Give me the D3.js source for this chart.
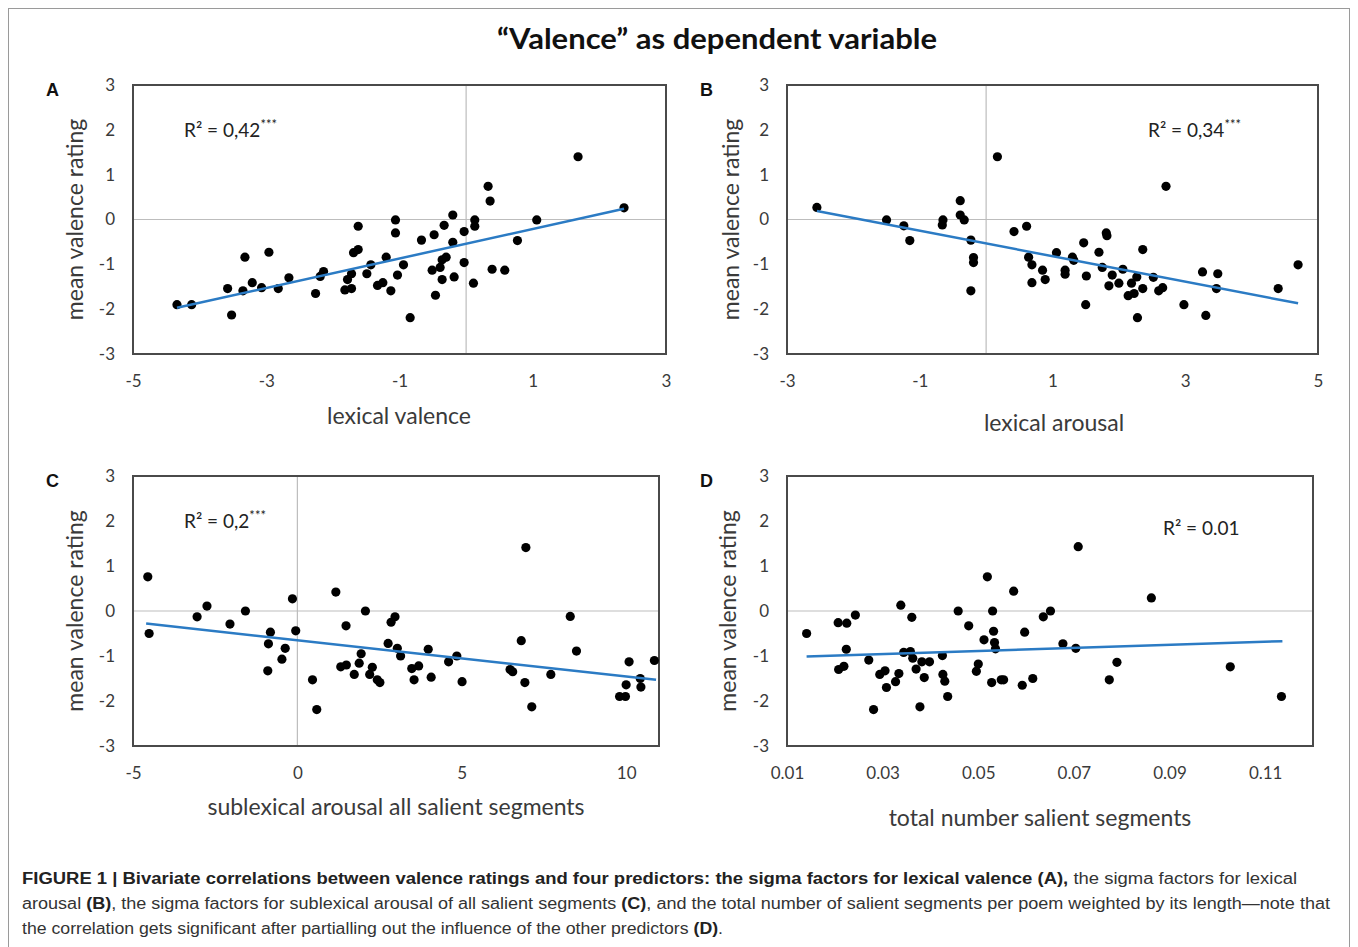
<!DOCTYPE html>
<html><head><meta charset="utf-8">
<script src="https://cdn.jsdelivr.net/npm/d3@7"></script>
<style>
body{margin:0;background:#fff;}
svg{display:block;}
</style></head><body>
<svg id="chart" width="1358" height="947"></svg>
<script>
// ---------- DATA ----------
const yTicks = [3, 2, 1, 0, -1, -2, -3];
const aTicks = [-5, -3, -1, 1, 3];
const bTicks = [-3, -1, 1, 3, 5];
const cTicks = [-5, 0, 5, 10];
const dTicks = [0.01, 0.03, 0.05, 0.07, 0.09, 0.11];

const aX = [-4.34,-4.12,-3.52,-3.58,-3.35,-3.32,-3.21,-3.07,-2.96,-2.82,-2.66,-2.26,-2.19,-2.14,-1.82,-1.72,-1.78,-1.72,-1.69,-1.62,-1.62,-1.49,-1.43,-1.33,-1.25,-1.20,-1.13,-1.06,-1.06,-1.03,-0.94,-0.84,-0.67,-0.51,-0.48,-0.46,-0.39,-0.36,-0.30,-0.36,-0.33,-0.20,-0.20,-0.18,-0.03,-0.03,0.11,0.13,0.13,0.33,0.36,0.39,0.58,0.77,1.06,1.68,2.37];
const aY = [-1.90,-1.90,-2.13,-1.54,-1.59,-0.84,-1.41,-1.52,-0.73,-1.54,-1.30,-1.65,-1.27,-1.16,-1.57,-1.54,-1.34,-1.21,-0.74,-0.67,-0.15,-1.21,-1.01,-1.47,-1.41,-0.84,-1.59,-0.01,-0.30,-1.24,-1.01,-2.19,-0.46,-1.13,-0.34,-1.69,-1.07,-0.90,-0.84,-1.34,-0.13,0.10,-0.51,-1.28,-0.27,-0.96,-1.42,-0.01,-0.15,0.74,0.41,-1.11,-1.13,-0.47,-0.01,1.40,0.26];

const bX = [-2.55,-1.50,-1.24,-1.15,-0.65,-0.66,-0.39,-0.39,-0.33,-0.23,-0.19,-0.19,-0.23,0.17,0.42,0.61,0.64,0.69,0.69,0.85,0.89,1.06,1.19,1.19,1.30,1.32,1.47,1.50,1.51,1.70,1.75,1.81,1.82,1.85,1.90,2.00,2.06,2.14,2.19,2.23,2.27,2.28,2.36,2.36,2.52,2.60,2.66,2.71,2.98,3.26,3.31,3.47,3.49,4.40,4.70];
const bY = [0.27,-0.01,-0.14,-0.47,-0.01,-0.12,0.42,0.10,-0.01,-0.46,-0.85,-0.96,-1.59,1.40,-0.27,-0.15,-0.84,-1.01,-1.41,-1.13,-1.34,-0.74,-1.13,-1.22,-0.84,-0.91,-0.52,-1.90,-1.26,-0.73,-1.07,-0.30,-0.36,-1.48,-1.24,-1.42,-1.11,-1.70,-1.42,-1.65,-1.28,-2.19,-0.67,-1.54,-1.29,-1.59,-1.52,0.74,-1.90,-1.17,-2.14,-1.54,-1.21,-1.54,-1.01];

const cX = [-4.55,-4.51,-3.05,-2.75,-2.05,-1.58,-0.90,-0.88,-0.82,-0.47,-0.37,-0.15,-0.05,0.46,0.59,1.17,1.32,1.49,1.48,1.73,1.88,1.94,2.07,2.20,2.28,2.43,2.51,2.76,2.85,2.97,3.04,3.14,3.48,3.69,3.55,3.98,4.07,4.60,4.85,5.01,6.47,6.55,6.81,6.95,6.92,7.13,7.71,8.30,8.49,9.80,9.98,10.00,10.09,10.43,10.45,10.86];
const cY = [0.76,-0.50,-0.13,0.11,-0.29,0.00,-1.33,-0.73,-0.47,-1.07,-0.83,0.27,-0.44,-1.53,-2.19,0.42,-1.24,-1.20,-0.33,-1.41,-1.16,-0.95,0.00,-1.41,-1.25,-1.53,-1.59,-0.72,-0.25,-0.13,-0.83,-1.00,-1.28,-1.22,-1.53,-0.85,-1.47,-1.13,-1.00,-1.57,-1.30,-1.35,-0.66,1.41,-1.59,-2.13,-1.41,-0.12,-0.89,-1.90,-1.90,-1.64,-1.13,-1.50,-1.69,-1.10];

const dX = [0.0141,0.0207,0.0225,0.0243,0.0224,0.0208,0.0219,0.0271,0.0281,0.0294,0.0305,0.0308,0.0327,0.0334,0.0338,0.0344,0.0358,0.0361,0.0363,0.0370,0.0378,0.0382,0.0387,0.0398,0.0425,0.0426,0.0430,0.0436,0.0458,0.0480,0.0496,0.0500,0.0512,0.0519,0.0528,0.0530,0.0532,0.0534,0.0536,0.0548,0.0553,0.0574,0.0592,0.0597,0.0614,0.0636,0.0651,0.0677,0.0704,0.0709,0.0774,0.0790,0.0862,0.1027,0.1134];
const dY = [-0.50,-0.26,-0.27,-0.09,-0.85,-1.30,-1.23,-1.09,-2.19,-1.41,-1.33,-1.70,-1.57,-1.39,0.13,-0.92,-0.90,-0.14,-1.05,-1.29,-2.13,-1.13,-1.48,-1.13,-0.99,-1.41,-1.56,-1.90,0.00,-0.33,-1.34,-1.18,-0.64,0.76,-1.59,0.00,-0.45,-0.70,-0.84,-1.53,-1.53,0.44,-1.65,-0.47,-1.50,-0.13,0.00,-0.73,-0.83,1.43,-1.53,-1.14,0.29,-1.24,-1.90];

// trend lines: [x, y] endpoints
const aTrend = [[-4.34, -1.97], [2.37, 0.24]];
const bTrend = [[-2.55, 0.19], [4.70, -1.87]];
const cTrend = [[-4.60, -0.28], [10.91, -1.53]];
const dTrend = [[0.0141, -1.01], [0.1136, -0.67]];

const titleText = "\u201CValence\u201D as dependent variable";
const yTitle = "mean valence rating";

// ---------- DRAW ----------
const svg = d3.select("#chart");
const FONT = "Lato, 'Open Sans', sans-serif";
const plain = d => String(d);

// outer frame
svg.append("rect").attr("x", 8.5).attr("y", 8.5).attr("width", 1341).attr("height", 960)
  .attr("fill", "none").attr("stroke", "#9a9a9a").attr("stroke-width", 1);

svg.append("text").attr("x", 717).attr("y", 49).attr("text-anchor", "middle")
  .attr("font-family", FONT).attr("font-weight", 700).attr("font-size", 28)
  .attr("fill", "#111").attr("textLength", 440).attr("lengthAdjust", "spacingAndGlyphs")
  .text(titleText);

const panels = [
  {letter:"A", xs:aX, ys:aY, trend:aTrend, ticks:aTicks, dom:[-5,3], box:[133,666,85,354], xTitle:"lexical valence", xTitleX:399, xTitleY:424, yTitleX:75, r2:"R\u00B2 = 0,42", star:true, r2x:184, r2y:137, fmt:plain},
  {letter:"B", xs:bX, ys:bY, trend:bTrend, ticks:bTicks, dom:[-3,5], box:[787,1318,85,354], xTitle:"lexical arousal", xTitleX:1054, xTitleY:431, yTitleX:731, r2:"R\u00B2 = 0,34", star:true, r2x:1148, r2y:137, fmt:plain},
  {letter:"C", xs:cX, ys:cY, trend:cTrend, ticks:cTicks, dom:[-5,11], box:[133,659,476,746], xTitle:"sublexical arousal all salient segments", xTitleX:396, xTitleY:815, yTitleX:75, r2:"R\u00B2 = 0,2", star:true, r2x:184, r2y:528, fmt:plain},
  {letter:"D", xs:dX, ys:dY, trend:dTrend, ticks:dTicks, dom:[0.01,0.12], box:[787,1313,476,746], xTitle:"total number salient segments", xTitleX:1040, xTitleY:826, yTitleX:728, r2:"R\u00B2 = 0.01", star:false, r2x:1163, r2y:535, fmt:d3.format(".2f")},
];

panels.forEach(p => {
  const [l, r, t, b] = p.box;
  const x = d3.scaleLinear().domain(p.dom).range([l, r]);
  const y = d3.scaleLinear().domain([-3, 3]).range([b, t]);
  const g = svg.append("g");

  // zero gridlines
  g.append("line").attr("x1", l).attr("x2", r).attr("y1", y(0)).attr("y2", y(0))
    .attr("stroke", "#bdbdbd").attr("stroke-width", 1.2);
  if (p.dom[0] < 0 && p.dom[1] > 0) {
    g.append("line").attr("x1", x(0)).attr("x2", x(0)).attr("y1", t).attr("y2", b)
      .attr("stroke", "#bdbdbd").attr("stroke-width", 1.2);
  }

  // border
  g.append("rect").attr("x", l).attr("y", t).attr("width", r - l).attr("height", b - t)
    .attr("fill", "none").attr("stroke", "#4a4a4a").attr("stroke-width", 2);

  // axes
  const ya = g.append("g").attr("transform", `translate(${l},0)`)
    .call(d3.axisLeft(y).tickValues(yTicks).tickSize(0).tickPadding(18).tickFormat(plain));
  ya.select(".domain").remove();
  ya.selectAll("text").attr("font-family", FONT).attr("font-size", 17).attr("fill", "#3a3a3a");

  const xa = g.append("g").attr("transform", `translate(0,${b})`)
    .call(d3.axisBottom(x).tickValues(p.ticks).tickSize(0).tickPadding(21).tickFormat(p.fmt));
  xa.select(".domain").remove();
  xa.selectAll("text").attr("font-family", FONT).attr("font-size", 17).attr("fill", "#3a3a3a");

  // axis titles
  g.append("text").attr("x", p.xTitleX).attr("y", p.xTitleY).attr("text-anchor", "middle")
    .attr("font-family", FONT).attr("font-size", 23).attr("fill", "#3a3a3a").text(p.xTitle);
  g.append("text").attr("transform", `translate(${p.yTitleX},${(t + b) / 2}) rotate(-90)`)
    .attr("text-anchor", "middle").attr("dy", "0.35em")
    .attr("font-family", FONT).attr("font-size", 23).attr("fill", "#3a3a3a").text(yTitle);

  // panel letter
  g.append("text").attr("x", l - 87).attr("y", t + 11)
    .attr("font-family", "'Liberation Sans', Arial, sans-serif").attr("font-weight", 700)
    .attr("font-size", 18).attr("fill", "#111").text(p.letter);

  // points
  const pts = p.xs.map((v, i) => [v, p.ys[i]]);
  g.selectAll("circle.pt").data(pts).enter().append("circle")
    .attr("cx", d => x(d[0])).attr("cy", d => y(d[1])).attr("r", 4.6).attr("fill", "#000");

  // trend
  g.append("path").datum(p.trend)
    .attr("d", d3.line().x(d => x(d[0])).y(d => y(d[1])))
    .attr("stroke", "#2b7bc4").attr("stroke-width", 2.5).attr("fill", "none");

  // R2 label
  const rt = g.append("text").attr("x", p.r2x).attr("y", p.r2y)
    .attr("font-family", FONT).attr("font-size", 19).attr("fill", "#222").text(p.r2);
  if (p.star) rt.append("tspan").attr("dy", -8).attr("font-size", 13).text("***");
});

// caption
const cap = svg.append("g").attr("font-family", "'Liberation Sans Narrow', 'Arial Narrow', 'Liberation Sans', Arial, sans-serif")
  .attr("font-size", 16).attr("fill", "#333");
const l1 = cap.append("text").attr("x", 22).attr("y", 884).attr("textLength", 1275).attr("lengthAdjust", "spacingAndGlyphs");
l1.append("tspan").attr("font-weight", 700).attr("fill", "#222").text("FIGURE 1 | Bivariate correlations between valence ratings and four predictors: the sigma factors for lexical valence (A),");
l1.append("tspan").text(" the sigma factors for lexical");
const l2 = cap.append("text").attr("x", 22).attr("y", 909).attr("textLength", 1308).attr("lengthAdjust", "spacingAndGlyphs");
l2.append("tspan").text("arousal ");
l2.append("tspan").attr("font-weight", 700).attr("fill", "#222").text("(B)");
l2.append("tspan").text(", the sigma factors for sublexical arousal of all salient segments ");
l2.append("tspan").attr("font-weight", 700).attr("fill", "#222").text("(C)");
l2.append("tspan").text(", and the total number of salient segments per poem weighted by its length\u2014note that");
const l3 = cap.append("text").attr("x", 22).attr("y", 934).attr("textLength", 701).attr("lengthAdjust", "spacingAndGlyphs");
l3.append("tspan").text("the correlation gets significant after partialling out the influence of the other predictors ");
l3.append("tspan").attr("font-weight", 700).attr("fill", "#222").text("(D)");
l3.append("tspan").text(".");
</script>
</body></html>
